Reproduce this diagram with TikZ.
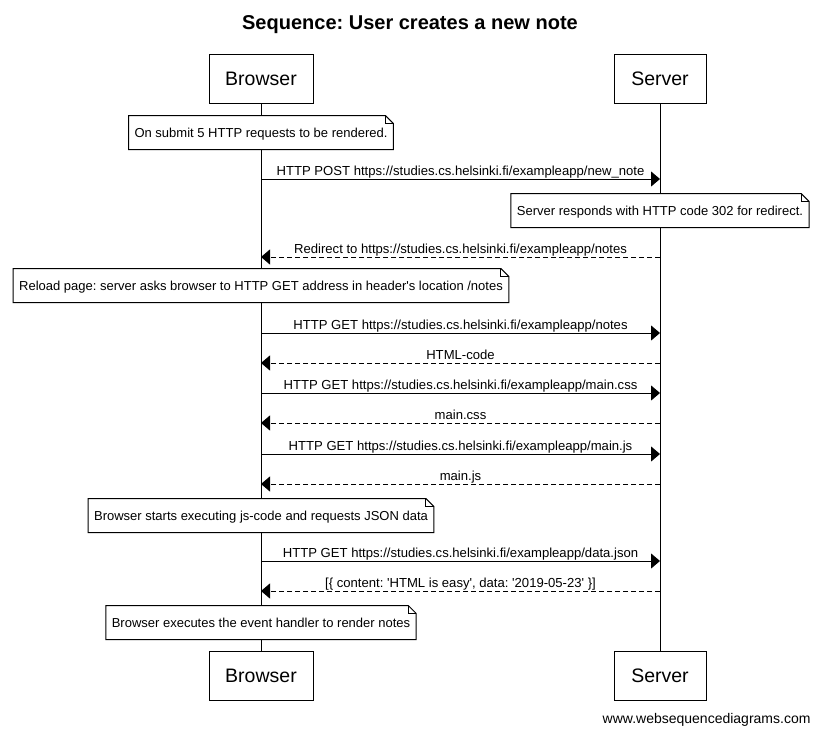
\documentclass[tikz,border=0pt]{standalone}
\usepackage{fontspec}
\setmainfont{Liberation Sans}
\usetikzlibrary{arrows.meta,calc}
\frenchspacing
\begin{document}
\begin{tikzpicture}[x=1pt,y=-1pt,
  every path/.style={line width=1pt},
  actor/.style={draw, fill=white, font=\fontsize{19.5}{23}\selectfont,
    minimum height=49pt, inner xsep=0pt, inner ysep=0pt,
    text height=14pt, text depth=0pt},
  note/.style={fill=white, font=\fontsize{13}{15.6}\selectfont,
    minimum height=33pt, inner xsep=5.5pt, inner ysep=0pt,
    text height=13.5pt, text depth=2.8pt},
  lbl/.style={anchor=base, yshift=3.2pt, inner sep=0pt,
    font=\fontsize{13.1}{15.7}\selectfont},
  life/.style={draw},
  req/.style={-{Triangle[length=9pt,width=15pt]}},
  resp/.style={-{Triangle[length=9pt,width=15pt]}, dash pattern=on 5pt off 3pt}
]
\fill[white] (0,0) rectangle (820,734);
\useasboundingbox (0,0) rectangle (820,734);

% title
\node[anchor=base, inner sep=0pt, font=\fontsize{20}{24}\selectfont\bfseries]
  (title) at (410,29) {Sequence: User creates a new note};

% participants
\node[actor, minimum width=104pt] (btop) at (261,78.5) {Browser};
\node[actor, minimum width=92pt]  (stop) at (660,78.5) {Server};
\node[actor, minimum width=104pt] (bbot) at (261,675.5) {Browser};
\node[actor, minimum width=92pt]  (sbot) at (660,675.5) {Server};

% lifelines
\draw[life] (btop.south) -- (bbot.north);
\draw[life] (stop.south) -- (sbot.north);

% notes
\node[note] (n1) at (261,132.5) {On submit 5 HTTP requests to be rendered.};
\node[note] (n2) at (660,210.5) {Server responds with HTTP code 302 for redirect.};
\node[note] (n3) at (261,285.5) {Reload page: server asks browser to HTTP GET address in header\textquotesingle s location /notes};
\node[note] (n4) at (261,515.5) {Browser starts executing js-code and requests JSON data};
\node[note] (n5) at (261,622.5) {Browser executes the event handler to render notes};

% note outlines with folded corner
\foreach \n in {n1,n2,n3,n4,n5}{
  \draw (\n.south west) -- (\n.north west) -- ($(\n.north east)+(-8,0)$)
    -- ($(\n.north east)+(0,8)$) -- (\n.south east) -- cycle;
  \draw ($(\n.north east)+(-8,0)$) -- ($(\n.north east)+(-8,8)$)
    -- ($(\n.north east)+(0,8)$);
}

% message anchor points on the lifelines
\foreach \i/\yy in {1/179,2/257,3/333,4/363,5/393,6/423,7/454,8/484,9/561,10/591}{
  \coordinate (b\i) at (261,\yy);
  \coordinate (s\i) at (660,\yy);
}

% messages
\draw[req]  (b1) -- node[lbl]{HTTP POST https://studies.cs.helsinki.fi/exampleapp/new\_note} (s1);
\draw[resp] (s2) -- node[lbl]{Redirect to https://studies.cs.helsinki.fi/exampleapp/notes} (b2);
\draw[req]  (b3) -- node[lbl]{HTTP GET https://studies.cs.helsinki.fi/exampleapp/notes} (s3);
\draw[resp] (s4) -- node[lbl]{HTML-code} (b4);
\draw[req]  (b5) -- node[lbl]{HTTP GET https://studies.cs.helsinki.fi/exampleapp/main.css} (s5);
\draw[resp] (s6) -- node[lbl]{main.css} (b6);
\draw[req]  (b7) -- node[lbl]{HTTP GET https://studies.cs.helsinki.fi/exampleapp/main.js} (s7);
\draw[resp] (s8) -- node[lbl]{main.js} (b8);
\draw[req]  (b9) -- node[lbl]{HTTP GET https://studies.cs.helsinki.fi/exampleapp/data.json} (s9);
\draw[resp] (s10) -- node[lbl]{[\{ content: \textquotesingle HTML is easy\textquotesingle, data: \textquotesingle 2019-05-23\textquotesingle\ \}]} (b10);

% footer
\node[anchor=base east, inner sep=0pt, font=\fontsize{14}{17}\selectfont]
  (site) at (811,723) {www.websequencediagrams.com};
\end{tikzpicture}
\end{document}
